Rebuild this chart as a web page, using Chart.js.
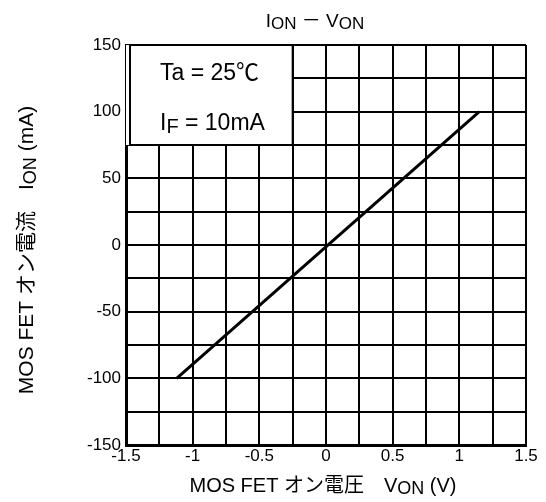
<!DOCTYPE html>
<html>
<head>
<meta charset="utf-8">
<script src="https://cdn.jsdelivr.net/npm/chart.js@4.4.1/dist/chart.umd.min.js"></script>
<style>
  html, body { margin: 0; padding: 0; background: #fff; }
</style>
</head>
<body>
<canvas id="chart" width="546" height="502"></canvas>
<script>
// data
const von = [-1.12, 1.15];      // V
const ion = [-100, 100];        // mA
const xRange = [-1.5, 1.5];
const yRange = [-150, 150];
const xGridStep = 0.25, xLabelStep = 0.5;
const yGridStep = 25, yLabelStep = 50;
// note box corners, in data units
const noteX = [-1.5, -0.25];
const noteY = [75, 150];

const FONT = "'Liberation Sans', Arial, 'Noto Sans CJK JP', sans-serif";

// draw a run of text parts, some of them subscripts
function drawRich(ctx, parts, x, y, size, align){
    const subSize = Math.round(size * 0.88);
    let total = 0;
    parts.forEach(p => {
        ctx.font = (p.sub ? subSize : size) + 'px ' + FONT;
        p.w = ctx.measureText(p.t).width;
        total += p.w;
    });
    let cx = align === 'center' ? x - total / 2 : x;
    ctx.textAlign = 'left';
    ctx.textBaseline = 'alphabetic';
    parts.forEach(p => {
        ctx.font = (p.sub ? subSize : size) + 'px ' + FONT;
        ctx.fillText(p.t, cx, p.sub ? y + size * 0.12 : y);
        cx += p.w;
    });
}

const textPlugin = {
    id: 'texts',
    beforeDatasetsDraw(chart){
        const {ctx, scales: {x, y}} = chart;
        const l = x.getPixelForValue(noteX[0]), r = x.getPixelForValue(noteX[1]);
        const t = y.getPixelForValue(noteY[1]), b = y.getPixelForValue(noteY[0]);
        ctx.save();
        ctx.fillStyle = '#fff';
        ctx.fillRect(l, t, r - l, b - t);
        ctx.strokeStyle = '#000';
        ctx.lineWidth = 2;
        ctx.strokeRect(l + 4, t, r - l - 4, b - t);
        ctx.fillStyle = '#000';
        drawRich(ctx, [{t: 'Ta = 25℃'}], l + 34, t + 35, 23);
        drawRich(ctx, [{t: 'I'}, {t: 'F', sub: true}, {t: ' = 10mA'}], l + 34, t + 85, 23);
        ctx.restore();
    },
    afterDraw(chart){
        const {ctx, chartArea: a} = chart;
        const mid = (a.left + a.right) / 2;
        ctx.save();
        ctx.fillStyle = '#000';
        drawRich(ctx, [{t: 'I'}, {t: 'ON', sub: true}, {t: ' － '}, {t: 'V'}, {t: 'ON', sub: true}], mid - 11, 27, 19, 'center');
        drawRich(ctx, [{t: 'MOS FET オン電圧　'}, {t: 'V'}, {t: 'ON', sub: true}, {t: ' (V)'}], mid - 3, 492, 20, 'center');
        ctx.translate(33, (a.top + a.bottom) / 2 + 5);
        ctx.rotate(-Math.PI / 2);
        drawRich(ctx, [{t: 'MOS FET オン電流　'}, {t: 'I'}, {t: 'ON', sub: true}, {t: ' (mA)'}], 0, 0, 21, 'center');
        ctx.restore();
    }
};

const onStep = (v, step) => Math.abs(v / step - Math.round(v / step)) < 1e-6;

new Chart(document.getElementById('chart'), {
    type: 'scatter',
    data: {
        datasets: [{
            data: von.map((v, i) => ({x: v, y: ion[i]})),
            showLine: true,
            borderColor: '#000',
            borderWidth: 3,
            pointRadius: 0,
            fill: false
        }]
    },
    options: {
        responsive: false,
        animation: false,
        devicePixelRatio: 1,
        layout: { padding: { top: 45, right: 20, left: 0, bottom: 0 } },
        plugins: { legend: { display: false }, tooltip: { enabled: false } },
        scales: {
            x: {
                type: 'linear',
                min: xRange[0], max: xRange[1],
                afterFit: s => { s.height = 57; },
                border: { color: '#000', width: 3 },
                grid: { color: '#000', lineWidth: 2, drawTicks: false },
                ticks: {
                    stepSize: xGridStep,
                    autoSkip: false,
                    maxRotation: 0,
                    padding: 1,
                    color: '#000',
                    font: { family: FONT, size: 17 },
                    callback: v => onStep(v, xLabelStep) ? String(Math.round(v * 10) / 10) : ''
                }
            },
            y: {
                min: yRange[0], max: yRange[1],
                afterFit: s => { s.width = 126; },
                border: { color: '#000', width: 3 },
                grid: { color: '#000', lineWidth: 2, drawTicks: false },
                ticks: {
                    stepSize: yGridStep,
                    autoSkip: false,
                    padding: 5,
                    color: '#000',
                    font: { family: FONT, size: 17 },
                    callback: v => onStep(v, yLabelStep) ? String(v) : ''
                }
            }
        }
    },
    plugins: [textPlugin]
});
</script>
</body>
</html>
